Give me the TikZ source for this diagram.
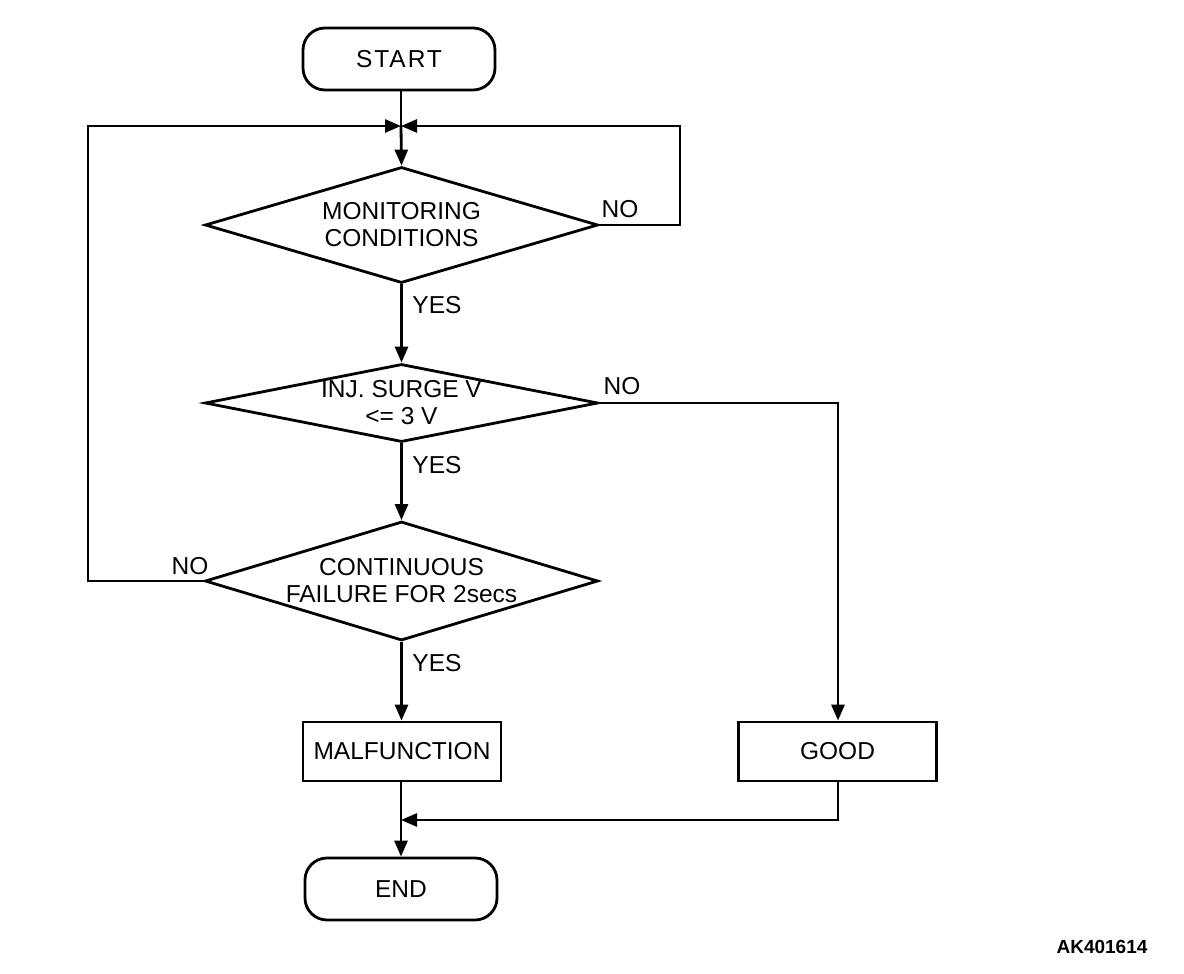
\documentclass[tikz,border=0pt]{standalone}
\usepackage{fontspec}
\setmainfont{Liberation Sans}
\usetikzlibrary{arrows.meta,shapes.geometric}
\begin{document}
\begin{tikzpicture}[x=1pt,y=-1pt,
  every node/.style={font=\fontsize{24.5}{27}\selectfont},
  ln/.style={line width=2.8pt},
  arr/.style={ln,-{Triangle[length=16pt,width=13pt]}},
  term/.style={draw,ln,rounded corners=22pt,minimum width=192pt,minimum height=62pt,inner sep=0pt},
  box/.style={draw,ln,minimum width=198pt,minimum height=59pt,inner sep=0pt},
  dec/.style={draw,ln,diamond,inner sep=0pt,align=center,minimum width=393pt},
  lbl/.style={inner sep=0pt}]
\useasboundingbox (0,0) rectangle (1184,974);
\node[term] (start) at (399,59) {\addfontfeatures{LetterSpace=8}START};
\node[dec,minimum height=116pt,aspect=3.4] (d1) at (401.5,225) {MONITORING\\CONDITIONS};
\node[dec,minimum height=78pt,aspect=5] (d2) at (401.5,403) {INJ. SURGE V\\<= 3 V};
\node[dec,minimum height=119pt,aspect=3.3] (d3) at (401.5,581) {CONTINUOUS\\FAILURE FOR 2secs};
\node[box] (mal) at (402,751.5) {MALFUNCTION};
\node[box] (good) at (837.5,751.5) {GOOD};
\node[term] (end) at (401,889) {END};
\coordinate (m) at (401,126);
\coordinate (j) at (401,820);
\node[lbl] (y1) at (437,305) {YES};
\node[lbl] (y2) at (437,465) {YES};
\node[lbl] (y3) at (437,663) {YES};
\node[lbl] (n1) at (620,209) {NO};
\node[lbl] (n2) at (622,386) {NO};
\node[lbl] (n3) at (190,566) {NO};
\node[font=\bfseries\fontsize{19}{22}\selectfont] (id) at (1102,947) {AK401614};
\draw[ln] (start.south -| m) -- (m);
\draw[arr] (m) -- (d1.north);
\draw[arr] (d1.east) -- (680,225) -- (680,126) -- (m);
\draw[arr] (d3.west) -- (88,581) -- (88,126) -- (m);
\draw[arr] (d1.south) -- (d2.north);
\draw[arr] (d2.south) -- (d3.north);
\draw[arr] (d3.south) -- (d3.south |- mal.north);
\draw[arr] (d2.east) -- (838,403) -- (good.north -| 838,0);
\draw[ln] (mal.south -| j) -- (j);
\draw[arr] (j) -- (end.north -| j);
\draw[arr] (good.south -| 838,0) -- (838,820) -- (j);
\end{tikzpicture}
\end{document}
